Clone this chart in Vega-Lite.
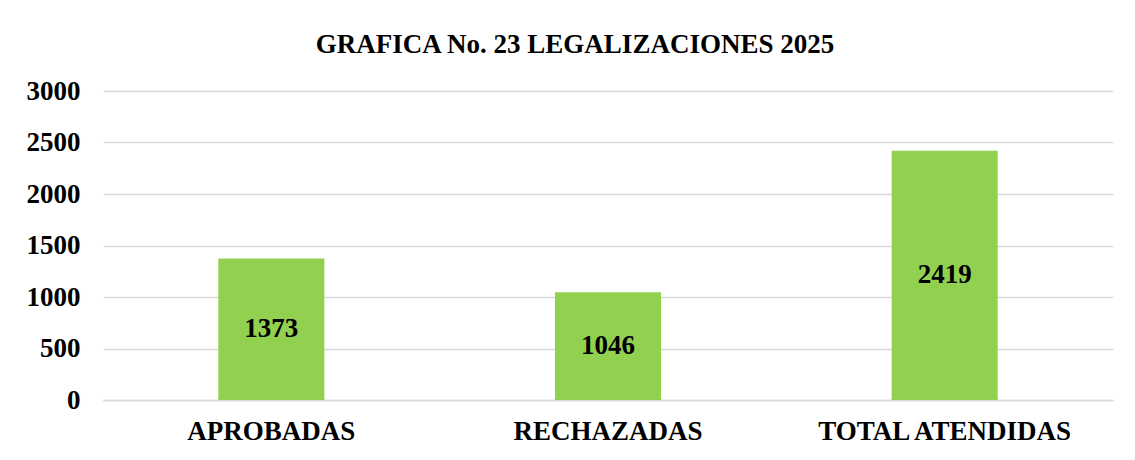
{
  "$schema": "https://vega.github.io/schema/vega-lite/v6.json",
  "autosize": "none",
  "width": 1010,
  "height": 309,
  "padding": {"left": 103, "top": 91, "right": 22, "bottom": 60},
  "background": "white",
  "title": {
    "text": "GRAFICA No. 23 LEGALIZACIONES 2025",
    "font": "Liberation Serif",
    "fontSize": 27,
    "fontWeight": "bold",
    "color": "#000000",
    "anchor": "middle",
    "frame": "group",
    "dx": -33,
    "baseline": "alphabetic",
    "offset": -3
  },
  "data": {
    "values": [
      {"categoria": "APROBADAS", "valor": 1373},
      {"categoria": "RECHAZADAS", "valor": 1046},
      {"categoria": "TOTAL ATENDIDAS", "valor": 2419}
    ]
  },
  "transform": [{"calculate": "datum.valor / 2", "as": "centro"}],
  "encoding": {
    "x": {
      "field": "categoria",
      "type": "nominal",
      "sort": null,
      "scale": {"paddingInner": 0.685, "paddingOuter": 0.3425},
      "axis": {
        "title": null,
        "labelAngle": 0,
        "labelFont": "Liberation Serif",
        "labelFontSize": 27,
        "labelFontWeight": "bold",
        "labelColor": "#000000",
        "labelPadding": 18,
        "labelLimit": 0,
        "ticks": false,
        "domain": true,
        "domainColor": "#d9d9d9",
        "domainWidth": 1.5
      }
    }
  },
  "layer": [
    {
      "mark": {"type": "bar", "color": "#92d050"},
      "encoding": {
        "y": {
          "field": "valor",
          "type": "quantitative",
          "scale": {"domain": [0, 3000]},
          "axis": {
            "title": null,
            "values": [0, 500, 1000, 1500, 2000, 2500, 3000],
            "format": "d",
            "labelFont": "Liberation Serif",
            "labelFontSize": 27,
            "labelFontWeight": "bold",
            "labelColor": "#000000",
            "labelPadding": 23,
            "ticks": false,
            "domain": false,
            "gridColor": "#d9d9d9",
            "gridWidth": 1.5
          }
        }
      }
    },
    {
      "mark": {
        "type": "text",
        "font": "Liberation Serif",
        "fontSize": 27,
        "fontWeight": "bold",
        "color": "#000000",
        "baseline": "middle"
      },
      "encoding": {
        "y": {"field": "centro", "type": "quantitative"},
        "text": {"field": "valor", "type": "quantitative", "format": "d"}
      }
    }
  ],
  "config": {"view": {"stroke": null}}
}
